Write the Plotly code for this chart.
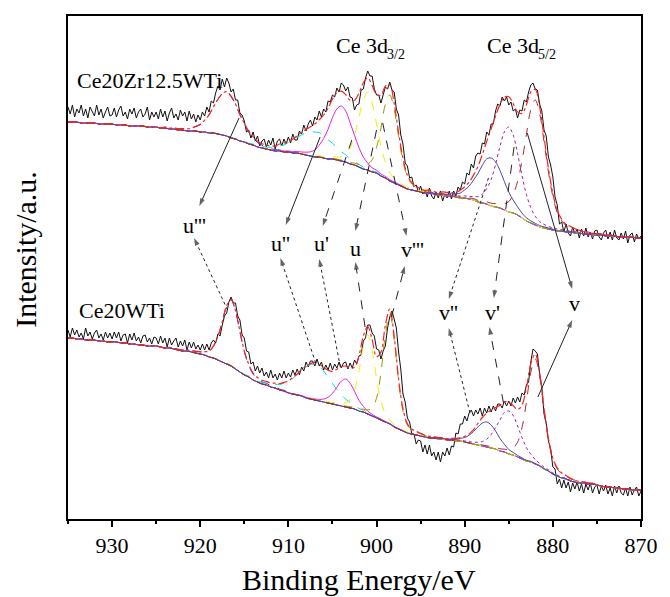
import plotly.graph_objects as go

# ---------------- data (intensity in arbitrary units) ----------------
E_FIT = [935 - 0.5 * i for i in range(131)]   # fit grid, eV
E_RAW = [935 - 0.25 * i for i in range(261)]  # raw data grid, eV

# Shirley-type backgrounds
BASE_1 = [397,397,397,396,396,396,396,395,395,395,
          395,394,394,394,393,393,393,393,392,392,
          392,391,391,390,390,389,389,388,388,388,
          387,387,386,386,385,384,383,381,380,378,
          377,375,374,372,371,370,369,368,368,367,
          367,366,366,365,364,363,362,362,361,360,
          360,359,358,357,355,354,352,350,349,347,
          346,343,341,338,336,334,332,330,329,328,
          327,326,326,325,324,324,323,323,322,321,
          321,320,319,317,316,315,313,312,311,309,
          307,306,304,301,298,296,294,292,291,290,
          289,288,288,287,287,286,286,285,285,284,
          284,284,283,283,283,282,282,282,282,281,
          281]
BASE_2 = [181,181,180,180,179,179,179,178,178,177,
          177,177,176,176,175,175,174,174,173,173,
          173,172,171,171,170,169,168,168,167,166,
          165,164,162,161,159,157,155,153,150,147,
          144,142,139,137,135,134,132,131,129,128,
          126,125,124,123,121,120,119,118,117,116,
          115,114,113,112,111,110,108,107,105,103,
          101,99,97,95,92,90,88,86,85,84,
          83,82,81,81,80,80,79,79,78,78,
          77,76,75,74,73,72,71,70,68,67,
          65,64,62,60,58,57,55,53,50,48,
          45,43,41,40,38,37,36,36,35,35,
          34,33,32,32,31,31,30,30,29,29,
          29]

# measured spectra
RAW_1 = [412,405,414,402,410,406,414,403,410,401,412,407,403,414,404,410,401,407,412,403,
         404,411,402,409,413,403,407,400,410,405,411,401,407,410,402,405,412,399,407,402,
         407,400,410,402,408,398,406,411,401,405,399,409,403,407,398,408,400,405,397,404,
         399,407,403,412,407,418,416,426,433,429,440,432,441,436,427,430,419,419,406,404,
         398,387,389,381,387,378,383,373,378,380,372,379,374,381,370,378,380,373,380,375,
         382,376,385,379,379,388,385,394,388,395,399,393,402,399,408,402,410,407,418,417,
         424,422,431,427,436,434,428,432,422,421,409,414,415,429,430,441,448,443,443,430,
         424,424,416,424,432,430,437,429,427,410,404,384,375,356,353,341,342,332,334,327,
         333,325,329,322,331,323,320,327,321,328,318,325,321,328,320,328,323,332,329,337,
         335,346,344,355,351,363,366,365,376,375,387,384,395,395,408,415,413,422,418,422,
         414,417,408,410,401,409,408,419,417,427,434,436,430,429,415,408,389,383,362,354,
         342,322,314,295,297,287,295,286,283,292,285,290,281,290,283,291,282,287,280,288,
         289,282,279,286,289,280,287,279,289,281,279,286,280,288,276,284,286,277,285,280,
         283]
RAW_2 = [189,182,191,184,189,182,186,180,191,183,187,180,186,189,181,185,179,187,181,186,
         180,187,181,187,178,184,185,176,185,179,186,178,182,176,183,184,177,181,175,182,
         181,175,183,176,181,172,181,174,178,181,172,178,173,179,169,177,171,177,170,174,
         169,175,169,175,169,176,179,176,185,183,194,203,206,217,222,216,216,203,199,184,
         181,168,167,155,157,148,153,146,151,143,147,141,149,141,145,139,146,141,148,141,
         146,142,149,144,150,144,152,148,157,152,158,158,153,160,153,157,149,154,149,156,
         149,155,151,157,151,156,157,150,156,151,159,155,163,164,178,181,194,194,186,183,
         170,169,160,168,173,191,202,208,200,191,167,150,125,117,101,97,85,85,75,79,
         78,67,74,65,74,63,67,59,67,57,67,63,71,64,73,72,86,85,95,95,
         103,98,106,109,103,109,105,111,103,111,106,113,107,113,108,115,115,111,118,113,
         118,113,121,116,122,117,126,124,134,137,157,170,168,165,145,132,105,96,78,70,
         52,50,35,40,31,39,31,37,27,36,30,37,28,35,26,35,29,36,26,32,
         34,25,33,28,34,25,31,23,33,26,33,26,24,31,23,32,24,29,32,23,
         28]

# fitted components: centre (eV) and half-profile heights every 0.5 eV away from the centre
PEAKS_1 = {
    "u'''": (917.0, [44, 41.3, 34.5, 26.1, 18.2, 11.8, 7.4, 4.6, 2.9, 2.0, 1.5, 1.3, 1.1, 0.9, 0.8]),
    "u''":  (907.0, [25, 24.3, 22.1, 19.2, 15.8, 12.5, 9.5, 7.0, 5.1, 3.6, 2.6, 1.9, 1.4, 1.1, 0.9, 0.8, 0.7, 0.6, 0.5, 0.5, 0.4]),
    "u'":   (904.0, [55, 51.0, 41.3, 29.7, 19.5, 11.9, 7.0, 4.2, 2.8, 2.0, 1.6, 1.3, 1.1, 0.9, 0.8]),
    "u":    (901.0, [78, 69.0, 49.3, 29.7, 15.8, 8.1, 4.4, 2.9, 2.1, 1.6, 1.4, 1.1, 1.0, 0.8, 0.7, 0.6]),
    "v'''": (898.5, [86, 73.6, 48.1, 25.6, 12.1, 5.9, 3.4, 2.4, 1.8, 1.5, 1.2, 0.9, 0.8, 0.7]),
    "v''":  (887.0, [48, 45.1, 37.6, 28.5, 19.9, 12.9, 8.1, 5.0, 3.2, 2.2, 1.7, 1.4, 1.2, 1.0, 0.9]),
    "v'":   (885.0, [85, 78.0, 61.4, 42.5, 26.5, 15.4, 8.8, 5.4, 3.6, 2.6, 2.1, 1.8, 1.5, 1.3, 1.2, 0.9]),
    "v":    (882.0, [125, 113.4, 86.3, 57.0, 33.6, 18.5, 10.4, 6.3, 4.4, 3.4, 2.8, 2.3, 2.0, 1.6, 1.4, 1.3, 1.1, 1.0]),
}
PEAKS_2 = {
    "u'''": (916.5, [66, 57.9, 40.2, 23.4, 11.9, 5.9, 3.3, 2.2, 1.7, 1.3, 1.1, 0.9, 0.7, 0.6, 0.6]),
    "u''":  (907.0, [36, 34.6, 31.0, 26.0, 20.6, 15.6, 11.2, 7.9, 5.4, 3.7, 2.6, 1.9, 1.5, 1.2, 1.0, 0.9, 0.8, 0.7, 0.6, 0.6, 0.5]),
    "u'":   (903.5, [28, 24.8, 17.7, 10.7, 5.7, 2.9, 1.6, 1.0, 0.8, 0.6, 0.5, 0.4, 0.4, 0.3]),
    "u":    (901.0, [79, 65.5, 39.5, 18.9, 8.2, 4.0, 2.4, 1.8, 1.4, 1.1, 0.9, 0.8, 0.6]),
    "v'''": (898.5, [110, 87.3, 47.5, 19.9, 8.0, 4.1, 2.8, 2.1, 1.6, 1.2, 1.0, 0.9, 0.7]),
    "v''":  (887.5, [25, 23.0, 18.1, 12.5, 7.8, 4.5, 2.6, 1.6, 1.1, 0.8, 0.6, 0.5, 0.5, 0.4]),
    "v'":   (885.0, [43, 39.5, 31.0, 21.5, 13.4, 7.8, 4.5, 2.7, 1.8, 1.3, 1.1, 0.9, 0.8, 0.7, 0.6]),
    "v":    (882.0, [105, 89.9, 58.7, 31.3, 14.8, 7.2, 4.2, 2.9, 2.2, 1.8, 1.5, 1.2, 1.0, 0.9]),
}

SAMPLES = ["Ce20Zr12.5WTi", "Ce20WTi"]
REGIONS = [("Ce 3d", "3/2"), ("Ce 3d", "5/2")]

# peak labels: text, label position (eV, I), upper arrow (start, tip, dash), lower arrow (start, tip, dash)
LABELS = [
    ("u'''", (920.6, 294), (915.6, 401), (920.1, 313), "solid", (916.9, 209), (920.7, 281), "dot"),
    ("u''",  (910.9, 276), (906.4, 382), (910.3, 294), "solid", (906.9, 156), (910.9, 261), "dot"),
    ("u'",   (906.3, 276), (902.8, 379), (906.1, 293), "dash",  (904.1, 152), (906.5, 260), "dot"),
    ("u",    (902.4, 271), (900.0, 389), (902.4, 288), "dash",  (901.3, 192), (902.4, 257), "dash"),
    ("v'''", (895.9, 270), (899.3, 396), (896.6, 283), "dash",  (898.3, 202), (896.8, 253), "dash"),
    ("v''",  (891.8, 207), (887.3, 341), (891.8, 220), "dot",   (889.4, 106), (891.8, 191), "dot"),
    ("v'",   (886.8, 207), (884.4, 372), (886.7, 221), "dash",  (885.6, 116), (887.2, 192), "dash"),
    ("v",    (877.6, 216), (882.9, 386), (877.8, 230), "solid", (881.7, 122), (877.8, 199), "solid"),
]

# ---------------- styles ----------------
COMP_STYLE = {
    "u'''": ("#3030D0", "dash"),
    "u''":  ("#00DADA", "dash"),
    "u'":   ("#E81EE8", "solid"),
    "u":    ("#F0F000", "dash"),
    "v'''": ("#9A9A00", "dash"),
    "v''":  ("#4848A8", "solid"),
    "v'":   ("#A020A0", "dot"),
    "v":    ("#B02828", "dash"),
}
SERIF = "Liberation Serif, Times New Roman, serif"

fig = go.Figure()


def on_grid(center, prof):
    out = []
    for e in E_FIT:
        k = int(round(abs(e - center) / 0.5))
        out.append(prof[k] if k < len(prof) else 0.0)
    return out


for base, peaks, raw in [(BASE_1, PEAKS_1, RAW_1), (BASE_2, PEAKS_2, RAW_2)]:
    fig.add_trace(go.Scatter(x=E_RAW, y=raw, mode="lines", hoverinfo="skip",
                             line=dict(color="#111111", width=1)))
    fig.add_trace(go.Scatter(x=E_FIT, y=base, mode="lines", line_shape="spline",
                             line=dict(color="#22BB22", width=1)))
    env = list(base)
    for name, (c, prof) in peaks.items():
        p = on_grid(c, prof)
        env = [a + b for a, b in zip(env, p)]
        col, dash = COMP_STYLE[name]
        fig.add_trace(go.Scatter(x=E_FIT, y=[a + b for a, b in zip(base, p)], mode="lines",
                                 line_shape="spline", line=dict(color=col, width=1, dash=dash)))
    fig.add_trace(go.Scatter(x=E_FIT, y=env, mode="lines", line_shape="spline",
                             line=dict(color="#FF2020", width=1.2, dash="dashdot")))

# arrows: dashed/dotted line with an arrow marker at the tip (pointing along the line)
annotations = []
for text, lab, s1, t1, d1, s2, t2, d2 in LABELS:
    annotations.append(dict(x=lab[0], y=lab[1], text=text, showarrow=False,
                            font=dict(family=SERIF, size=22, color="black"),
                            xanchor="center", yanchor="middle"))
    for s, t, d in [(s1, t1, d1), (s2, t2, d2)]:
        fig.add_trace(go.Scatter(
            x=[s[0], t[0]], y=[s[1], t[1]], mode="lines+markers",
            line=dict(color="#222222", width=1, dash=d),
            marker=dict(symbol="arrow", size=[0, 8], angleref="previous",
                        color="#222222", line=dict(width=0)),
            hoverinfo="skip"))

# sample and region labels
annotations += [
    dict(x=934.2, y=439, text=SAMPLES[0], xanchor="left", yanchor="middle", showarrow=False,
         font=dict(family=SERIF, size=22, color="black")),
    dict(x=934.0, y=209, text=SAMPLES[1], xanchor="left", yanchor="middle", showarrow=False,
         font=dict(family=SERIF, size=22, color="black")),
]
for (main, sub), x_main, x_sub in zip(REGIONS, [904.8, 887.7], [899.0, 881.9]):
    annotations.append(dict(x=x_main, y=474, text=main, xanchor="left", yanchor="middle",
                            showarrow=False, font=dict(family=SERIF, size=22, color="black")))
    annotations.append(dict(x=x_sub, y=465, text=sub, xanchor="left", yanchor="middle",
                            showarrow=False, font=dict(family=SERIF, size=14, color="black")))
annotations += [
    dict(x=0.5077, y=-0.121, xref="paper", yref="paper", text="Binding Energy/eV",
         showarrow=False, xanchor="center", yanchor="middle",
         font=dict(family=SERIF, size=30, color="black")),
    dict(x=-0.0735, y=0.537, xref="paper", yref="paper", text="Intensity/a.u.",
         showarrow=False, xanchor="center", yanchor="middle", textangle=-90,
         font=dict(family=SERIF, size=30, color="black")),
]

fig.update_layout(
    width=670, height=597,
    margin=dict(l=68, r=17, t=16, b=78),
    plot_bgcolor="white", paper_bgcolor="white",
    showlegend=False,
    font=dict(family=SERIF, color="black"),
    annotations=annotations,
    xaxis=dict(range=[935, 870], showline=True, mirror=True, linecolor="black", linewidth=2,
               ticks="outside", tick0=930, dtick=10, ticklen=6, tickwidth=1.5, tickcolor="black",
               minor=dict(ticks="outside", dtick=5, ticklen=3, tickwidth=1.5, tickcolor="black"),
               showgrid=False, zeroline=False,
               tickfont=dict(family=SERIF, size=22, color="black")),
    yaxis=dict(range=[0, 503], showline=True, mirror=True, linecolor="black", linewidth=2,
               ticks="", showticklabels=False, showgrid=False, zeroline=False),
)

fig.write_html("out.html")
